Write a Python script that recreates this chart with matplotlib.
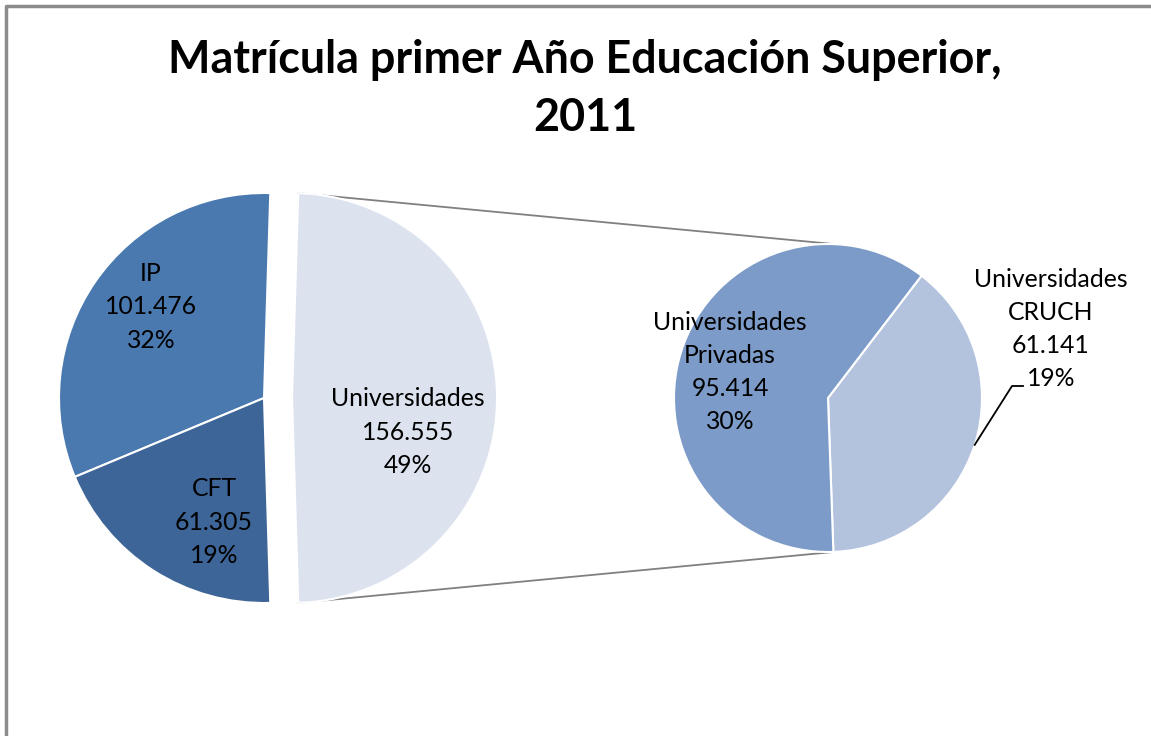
import matplotlib.pyplot as plt
from matplotlib.lines import Line2D
import numpy as np

plt.rcParams['font.family'] = ['Lato', 'DejaVu Sans']

# main pie
main_labels = ["Universidades", "IP", "CFT"]
main_values = [156555, 101476, 61305]
main_pct = ["49%", "32%", "19%"]
main_colors = ["#dce3ef", "#4a79b0", "#3d6597"]

# secondary pie (breakdown of Universidades)
sub_labels = ["Universidades\nCRUCH", "Universidades\nPrivadas"]
sub_values = [61141, 95414]
sub_pct = ["19%", "30%"]
sub_colors = ["#b3c3de", "#7c9bc9"]

title = "Matrícula primer Año Educación Superior,\n2011"

W, H = 1151, 736
fig = plt.figure(figsize=(W / 100, H / 100), dpi=100)
ax = fig.add_axes([0, 0, 1, 1])


def fmt(v):
    return f"{v:,}".replace(",", ".")


# geometry in pixels (y up)
c1 = (264, H - 398)
r1 = 205
shift = 28
c2 = (828, H - 398)
r2 = 154

start1 = -360 * main_values[0] / sum(main_values) / 2
wedges1, _ = ax.pie(main_values, colors=main_colors, startangle=start1,
                    center=c1, radius=r1, explode=[shift, 0, 0],
                    wedgeprops=dict(edgecolor="white", linewidth=1.5))

start2 = -88
wedges2, _ = ax.pie(sub_values, colors=sub_colors, startangle=start2,
                    center=c2, radius=r2,
                    wedgeprops=dict(edgecolor="white", linewidth=1.5))

# connector lines between exploded slice and secondary pie
w = wedges1[0]
for ang, sy in [(w.theta2, 1), (w.theta1, -1)]:
    x0 = w.center[0] + r1 * np.cos(np.radians(ang))
    y0 = w.center[1] + r1 * np.sin(np.radians(ang))
    ax.plot([x0, c2[0] + 5], [y0, c2[1] + sy * r2], color="#808080", lw=1.3, zorder=0)

fs = 17.8
ls = 1.53

# labels main pie
lab_pos1 = [(408, H - 432), (151, H - 307), (214, H - 522)]
for lab, v, p, (x, y) in zip(main_labels, main_values, main_pct, lab_pos1):
    ax.text(x, y, f"{lab}\n{fmt(v)}\n{p}", ha="center", va="center",
            fontsize=fs, linespacing=ls, color="black")

# labels secondary pie
lab_pos2 = [(1051, H - 329), (730, H - 372)]
for lab, v, p, (x, y) in zip(sub_labels, sub_values, sub_pct, lab_pos2):
    ax.text(x, y, f"{lab}\n{fmt(v)}\n{p}", ha="center", va="center",
            fontsize=fs, linespacing=ls, color="black")

# leader line for CRUCH
wc = wedges2[0]
mid = np.radians((wc.theta1 + wc.theta2) / 2)
lx = c2[0] + r2 * np.cos(mid)
ly = c2[1] + r2 * np.sin(mid)
ax.plot([lx, 1012, 1023], [ly, H - 386, H - 386], color="black", lw=1.3)

ax.set_xlim(0, W)
ax.set_ylim(0, H)
ax.set_aspect("equal")
ax.axis("off")

fig.text(585 / W, 1 - 89 / H, title, ha="center", va="center",
         fontsize=32.3, fontweight="bold", linespacing=1.48)

# chart frame
fy = 1 - 6 / H
fx = 6 / W
fig.add_artist(Line2D([fx, fx, 1.0], [0.0, fy, fy], color="#8c8c8c", lw=2.5,
                      transform=fig.transFigure))

fig.savefig("out.png", dpi=100, facecolor="white")
